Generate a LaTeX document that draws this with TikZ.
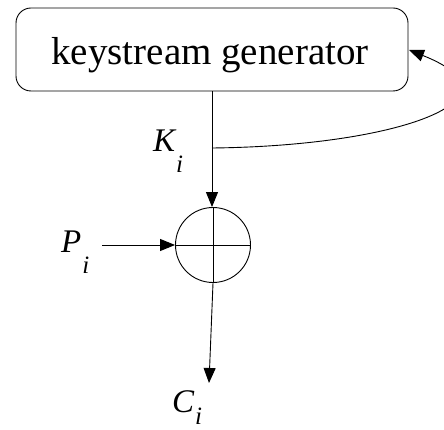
\documentclass[tikz,border=0pt]{standalone}
\usepackage{fontspec}
\setmainfont{Liberation Serif}
\usetikzlibrary{arrows.meta}
\tikzset{
  conn/.style={line width=0.9pt, -{Triangle[length=15pt,width=12pt]}},
  genbox/.style={draw, line width=0.9pt, rounded corners=15pt, minimum width=392pt, minimum height=83pt, inner sep=0pt},
  xorcirc/.style={draw, line width=0.9pt, circle, minimum size=75pt, inner sep=0pt},
  lab/.style={anchor=base west, inner sep=0pt, font=\fontsize{33}{33}\selectfont\itshape}
}
\newcommand{\subi}[1][21pt]{\kern1pt\raisebox{-#1}{\fontsize{25}{25}\selectfont i}}
\begin{document}
\begin{tikzpicture}[x=1pt,y=-1pt]
\useasboundingbox (0,0) rectangle (444,430);
\clip (0,0) rectangle (444,430);
\node[genbox] (gen) at (212,49.5) {};
\node[anchor=base, inner sep=0pt, font=\fontsize{39}{39}\selectfont] (gentext) at (210,65) {keystream generator};
\node[xorcirc] (xor) at (213,245) {};
\draw[line width=0.9pt] (xor.north) -- (xor.south);
\draw[line width=0.9pt] (xor.west) -- (xor.east);
\coordinate (ki) at (212,148);
\coordinate (pin) at (102,245);
\coordinate (cout) at (209,383);
\coordinate (genin) at (409,50);
\draw[conn] (gen.south -| ki) -- (xor.north -| ki);
\draw[conn] (pin) -- (xor.west);
\draw[conn] (xor.south) -- (cout);
\draw[conn] (ki) .. controls (400,146) and (530,98) .. (genin);
\node[lab] (klab) at (153,152) {K\subi};
\node[lab] (plab) at (61,252) {P\subi};
\node[lab] (clab) at (172,412) {C\subi[12pt]};
\end{tikzpicture}
\end{document}
